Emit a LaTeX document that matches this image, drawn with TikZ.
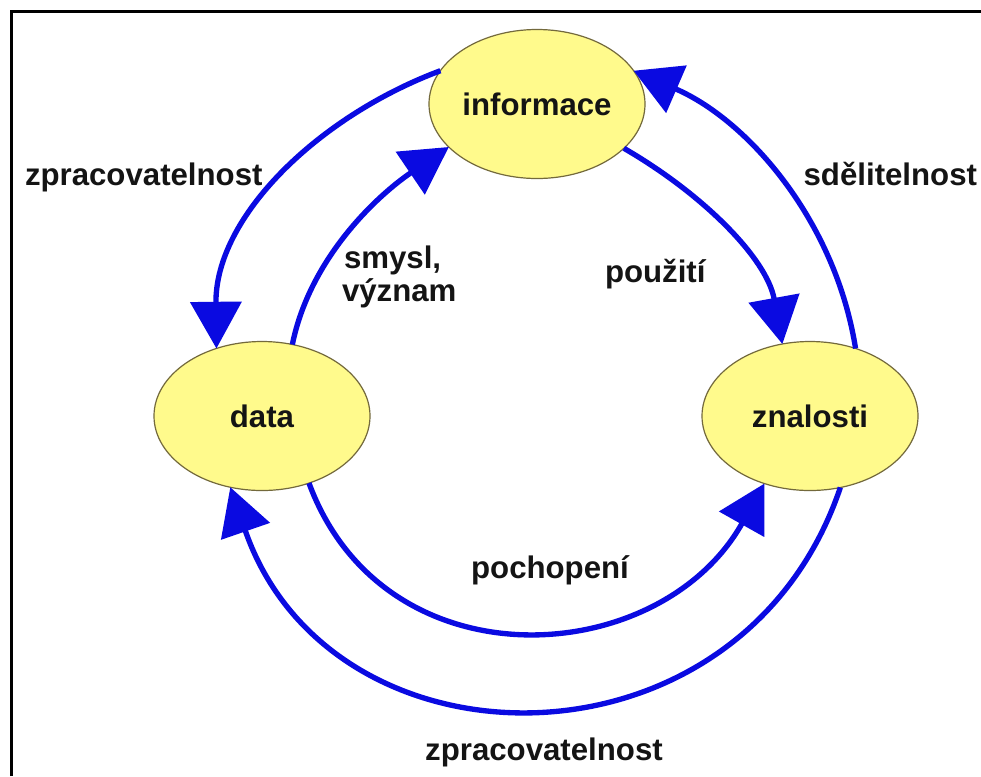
\documentclass[tikz,border=0pt]{standalone}
\usepackage{fontspec}
\setmainfont{Liberation Sans}
\usetikzlibrary{arrows.meta,shapes.geometric}
\definecolor{cycleblue}{RGB}{10,10,225}
\definecolor{nodefill}{RGB}{255,250,140}
\definecolor{nodeline}{RGB}{115,105,60}
\definecolor{labeltext}{RGB}{20,20,20}
\begin{document}
\begin{tikzpicture}[x=0.75pt,y=-0.75pt,
  stage/.style={ellipse, draw=nodeline, line width=0.9pt, fill=nodefill,
    minimum width=162pt, minimum height=111.75pt, inner sep=0pt, outer sep=0pt,
    font=\fontsize{23.4}{28}\selectfont\bfseries, text=labeltext},
  flow/.style={draw=cycleblue, line width=4pt, -{Triangle[length=35pt,width=38pt]}},
  caption/.style={font=\fontsize{23.4}{28}\selectfont\bfseries, text=labeltext,
    inner sep=0pt, outer sep=0pt}]
\useasboundingbox (0,0) rectangle (981,776);
\fill[white] (0,0) rectangle (981,776);
% frame along the left and top edges
\draw[line width=2.25pt, black] (11,776) -- (11,11.5) -- (981,11.5);

% the three stages
\node[stage] (info) at (537,104) {informace};
\node[stage] (data) at (262,416) {data};
\node[stage] (znal) at (810,416) {znalosti};

% outer cycle
\draw[flow] (info.161.7) .. controls (318,116.5) and (215,217) .. (data.124.6);
\draw[flow] (znal.56.5) .. controls (835.4,221.2) and (748.3,120.3) .. (info.19.7);
\draw[flow] (znal.-67.4) .. controls (740.8,781.6) and (331.3,779.6) .. (data.-114.9);

% inner cycle
\draw[flow] (data.67) .. controls (310,257.7) and (377.6,195.3) .. (info.206);
\draw[flow] (info.-27.3) .. controls (701.9,193.3) and (766.7,257.9) .. (znal.111);
\draw[flow] (data.-55) .. controls (384.5,687.3) and (659.5,670.1) .. (znal.-124.3);

% labels
\node[caption, anchor=base west] (lblA) at (25,185) {zpracovatelnost};
\node[caption, anchor=base east] (lblD) at (977,185) {sdělitelnost};
\node[caption, anchor=base west] (lblB1) at (344,268) {smysl,};
\node[caption, anchor=base west] (lblB2) at (342,301) {význam};
\node[caption, anchor=base west] (lblC) at (605,282) {použití};
\node[caption, anchor=base] (lblE) at (550,578) {pochopení};
\node[caption, anchor=base] (lblF) at (544,760) {zpracovatelnost};
\end{tikzpicture}
\end{document}
